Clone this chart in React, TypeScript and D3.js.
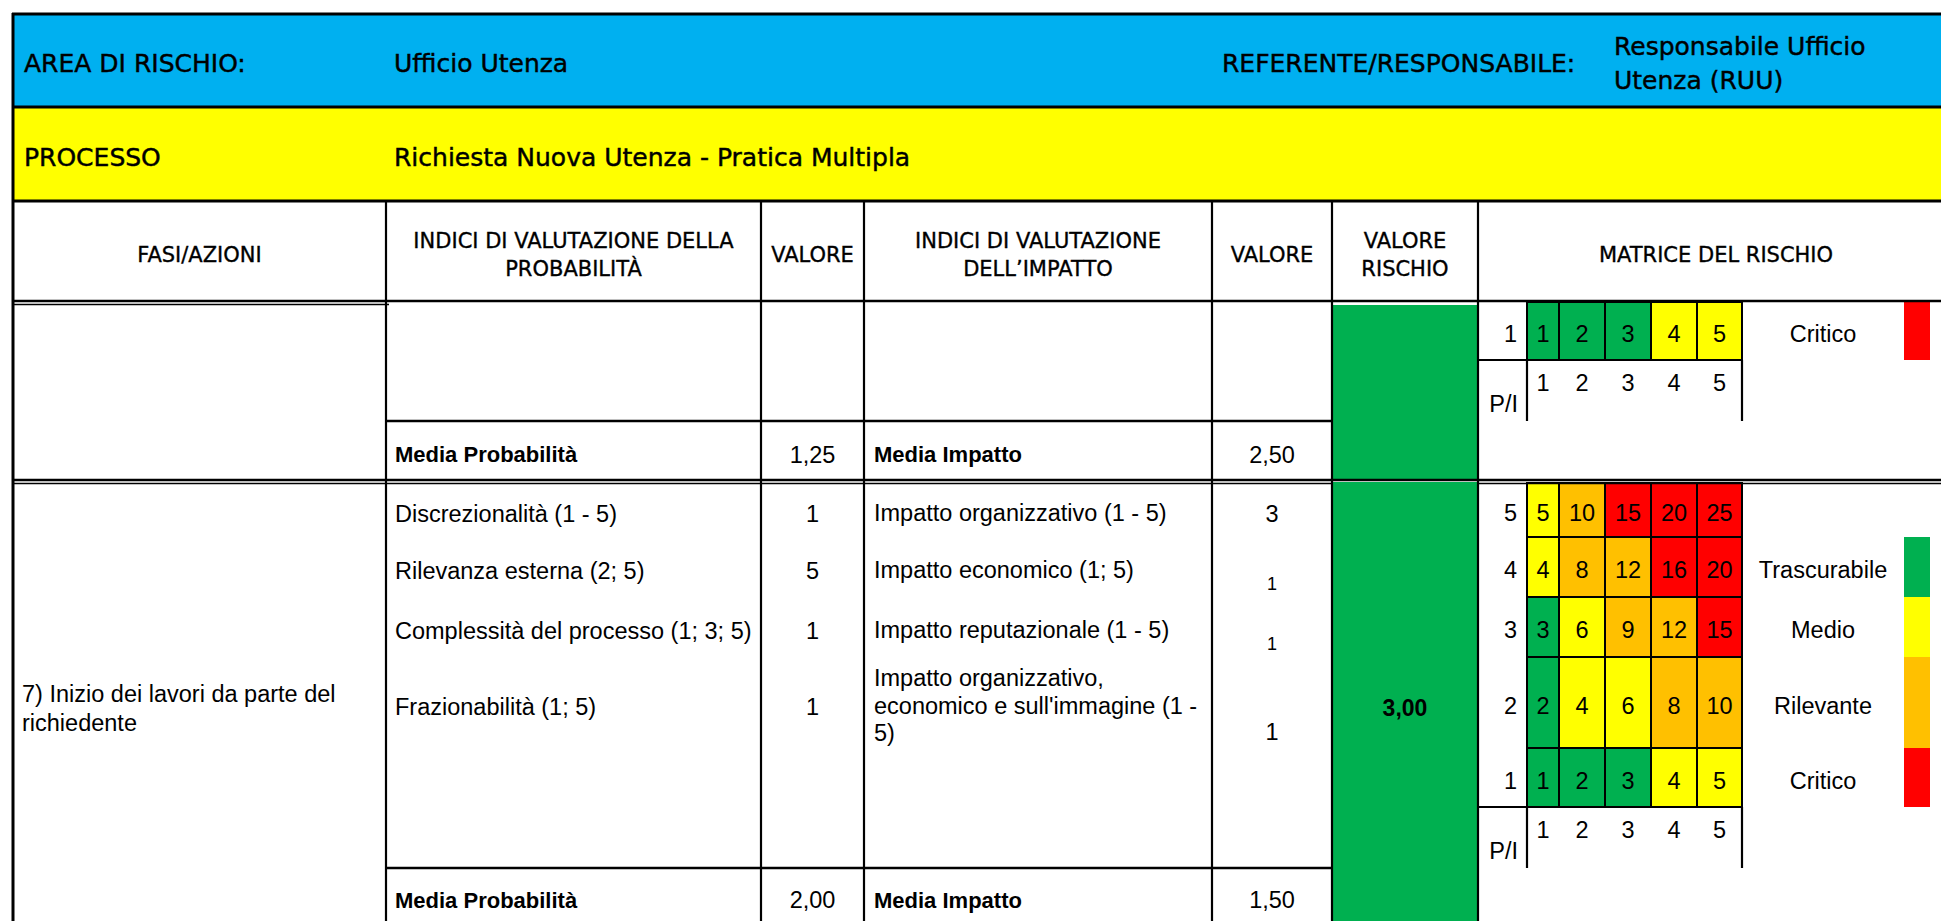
import React from 'react';
import * as d3 from 'd3';

// intestazione della scheda
const areaLabel = 'AREA DI RISCHIO:';
const areaValue = 'Ufficio Utenza';
const referenteLabel = 'REFERENTE/RESPONSABILE:';
const referenteValue = ['Responsabile Ufficio', 'Utenza (RUU)'];
const processoLabel = 'PROCESSO';
const processoValue = 'Richiesta Nuova Utenza - Pratica Multipla';

const columnHeaders = [
  ['FASI/AZIONI'],
  ['INDICI DI VALUTAZIONE DELLA', 'PROBABILITÀ'],
  ['VALORE'],
  ['INDICI DI VALUTAZIONE', 'DELL’IMPATTO'],
  ['VALORE'],
  ['VALORE', 'RISCHIO'],
  ['MATRICE DEL RISCHIO'],
];

// fase precedente (se ne vede solo la coda)
const prevMediaProb = 1.25;
const prevMediaImp = 2.5;
const prevRiskClass = 'Trascurabile';

// fase 7
const faseLabel = ['7) Inizio dei lavori da parte del', 'richiedente'];
const probIndices = [
  'Discrezionalità (1 - 5)',
  'Rilevanza esterna (2; 5)',
  'Complessità del processo (1; 3; 5)',
  'Frazionabilità (1; 5)',
];
const probValues = [1, 5, 1, 1];
const impactIndices = [
  ['Impatto organizzativo (1 - 5)'],
  ['Impatto economico (1; 5)'],
  ['Impatto reputazionale (1 - 5)'],
  ['Impatto organizzativo,', "economico e sull'immagine (1 -", '5)'],
];
const impactValues = [3, 1, 1, 1];
const mediaProb = 2.0;
const mediaImp = 1.5;
const valoreRischio = 3.0;

// matrice probabilità x impatto
const probLevels = [5, 4, 3, 2, 1];
const impactLevels = [1, 2, 3, 4, 5];
const matrixValues = [
  [5, 10, 15, 20, 25],
  [4, 8, 12, 16, 20],
  [3, 6, 9, 12, 15],
  [2, 4, 6, 8, 10],
  [1, 2, 3, 4, 5],
];
const riskClasses = ['Trascurabile', 'Medio', 'Rilevante', 'Critico'];
const riskColors = ['#00B050', '#FFFF00', '#FFC000', '#FF0000'];

const W = 1941;
const H = 921;
const fBand = "'DejaVu Sans', Verdana, sans-serif";
const fBody = "'Liberation Sans', Arial, sans-serif";

// colonne della tabella
const colX = [13, 386, 761, 864, 1212, 1332, 1478, 1960];
const matX = [1527, 1559, 1605, 1651, 1697, 1742];

const App: React.FC = () => {
  const fmt = d3
    .formatLocale({ decimal: ',', thousands: '.', grouping: [3], currency: ['€', ''] })
    .format('.2f');
  const riskColor = d3.scaleThreshold<number, string>().domain([4, 8, 15]).range(riskColors);
  const classColor = d3.scaleOrdinal<string, string>().domain(riskClasses).range(riskColors);

  // righe: sezione 1 (coda fase precedente) e sezione 2 (fase 7)
  const s1 = [302, ...Array.from(d3.cumsum([58, 61, 59])).map(d => 302 + d)];
  const s2 = [483, ...Array.from(d3.cumsum([54, 60, 60, 91, 59, 61, 58])).map(d => 483 + d)];
  const m1 = (s1[2] + s1[3]) / 2;
  const m2 = (s2[6] + s2[7]) / 2;

  const colMid = (i: number) => (colX[i] + colX[i + 1]) / 2;
  const matMid = (j: number) => (matX[j] + matX[j + 1]) / 2;

  const lines: { x1: number; y1: number; x2: number; y2: number; w: number }[] = [];
  const hl = (y: number, x1: number, x2: number, w = 2.2) => lines.push({ x1, y1: y, x2, y2: y, w });
  const vl = (x: number, y1: number, y2: number, w = 2.2) => lines.push({ x1: x, y1, x2: x, y2, w });

  hl(14, 12, W, 3);
  hl(107, 12, W, 3);
  hl(201, 12, W, 3);
  hl(301, 12, W, 2.5);
  hl(304.5, 12, 389, 1.6);
  vl(13, 13, H, 3);
  colX.slice(1, 7).forEach(x => vl(x, 201, H));
  hl(s1[2], colX[1], colX[5], 2.6);
  hl(480, 12, W, 2.6);
  hl(483.5, 12, colX[5], 1.6);
  hl(483.5, colX[6], W, 1.6);
  hl(s2[6], colX[1], colX[5], 2.6);

  const matrix = (ys: number[], rows: number[], legend: { cls: string; row: number }[], key: string) => {
    const nr = rows.length;
    const axisTop = ys[nr];
    const axisBot = ys[nr + 1];
    return (
      <g key={key} fontFamily={fBody} fontSize={23.5} fill="#000">
        {rows.map((r, k) => (
          <g key={r}>
            <text x={1517} y={(ys[k] + ys[k + 1]) / 2 + 3} dy="0.35em" textAnchor="end">
              {probLevels[r]}
            </text>
            {matrixValues[r].map((v, j) => (
              <g key={j}>
                <rect
                  x={matX[j]}
                  y={ys[k]}
                  width={matX[j + 1] - matX[j]}
                  height={ys[k + 1] - ys[k]}
                  fill={riskColor(v)}
                  stroke="#000"
                  strokeWidth={2}
                />
                <text x={matMid(j)} y={(ys[k] + ys[k + 1]) / 2 + 3} dy="0.35em" textAnchor="middle">
                  {v}
                </text>
              </g>
            ))}
          </g>
        ))}
        <line x1={colX[6]} x2={matX[5]} y1={axisTop} y2={axisTop} stroke="#000" strokeWidth={2.2} />
        <line x1={matX[0]} x2={matX[0]} y1={axisTop} y2={axisBot} stroke="#000" strokeWidth={2.2} />
        <line x1={matX[5]} x2={matX[5]} y1={axisTop} y2={axisBot} stroke="#000" strokeWidth={2.2} />
        {impactLevels.map((d, j) => (
          <text key={d} x={matMid(j)} y={axisTop + 31} textAnchor="middle">
            {d}
          </text>
        ))}
        <text x={1518} y={axisTop + 52} textAnchor="end">
          P/I
        </text>
        {legend.map(l => (
          <g key={l.cls}>
            <text x={1823} y={(ys[l.row] + ys[l.row + 1]) / 2 + 3} dy="0.35em" textAnchor="middle">
              {l.cls}
            </text>
            <rect x={1904} y={ys[l.row]} width={26} height={ys[l.row + 1] - ys[l.row]} fill={classColor(l.cls)} />
          </g>
        ))}
      </g>
    );
  };

  const impactAlign = ['center', 'bottomSmall', 'bottomSmall', 'bottom'];

  return (
    <svg
      width={W}
      height={H}
      style={{ position: 'absolute', left: 0, top: 0, background: '#fff' }}
    >
      {/* fasce di intestazione */}
      <rect x={13} y={14} width={W} height={93} fill="#00B0F0" />
      <rect x={13} y={107} width={W} height={94} fill="#FFFF00" />
      <g fontFamily={fBand} fontSize={25} fill="#000" stroke="#000" strokeWidth={0.45}>
        <text x={24} y={72}>{areaLabel}</text>
        <text x={394} y={72}>{areaValue}</text>
        <text x={1222} y={72}>{referenteLabel}</text>
        {referenteValue.map((t, i) => (
          <text key={t} x={1614} y={55 + i * 34}>{t}</text>
        ))}
        <text x={24} y={166}>{processoLabel}</text>
        <text x={394} y={166}>{processoValue}</text>
      </g>

      {/* testata colonne */}
      <g fontFamily={fBand} fontSize={21} fill="#000" stroke="#000" strokeWidth={0.35} textAnchor="middle">
        {columnHeaders.map((lbl, i) => {
          const cx = i === 6 ? 1716 : colMid(i);
          const y0 = lbl.length === 1 ? 262 : 248;
          return lbl.map((t, k) => (
            <text key={`${i}-${k}`} x={cx} y={y0 + k * 28}>{t}</text>
          ));
        })}
      </g>

      {/* valore rischio (verde) */}
      <rect x={colX[5]} y={305} width={colX[6] - colX[5]} height={175} fill={classColor(prevRiskClass)} />
      <rect x={colX[5]} y={482} width={colX[6] - colX[5]} height={H - 482} fill={riskColor(valoreRischio)} />

      {/* sezione 1: medie della fase precedente */}
      <g fontFamily={fBody} fontSize={23.5} fill="#000">
        <text x={395} y={m1 + 4} dy="0.35em" fontWeight="bold" fontSize={22}>Media Probabilità</text>
        <text x={colMid(2)} y={m1 + 4} dy="0.35em" textAnchor="middle">{fmt(prevMediaProb)}</text>
        <text x={874} y={m1 + 4} dy="0.35em" fontWeight="bold" fontSize={22}>Media Impatto</text>
        <text x={colMid(4)} y={m1 + 4} dy="0.35em" textAnchor="middle">{fmt(prevMediaImp)}</text>
      </g>

      {/* sezione 2: fase 7 */}
      <g fontFamily={fBody} fontSize={23.5} fill="#000">
        {faseLabel.map((t, i) => (
          <text key={t} x={22} y={(s2[0] + s2[7] + 8) / 2 + (i - 0.5) * 29} dy="0.35em">{t}</text>
        ))}
        {probIndices.map((t, i) => (
          <g key={t}>
            <text x={395} y={(s2[i] + s2[i + 1]) / 2 + 4} dy="0.35em">{t}</text>
            <text x={colMid(2)} y={(s2[i] + s2[i + 1]) / 2 + 4} dy="0.35em" textAnchor="middle">{probValues[i]}</text>
          </g>
        ))}
        {impactIndices.map((lns, i) => {
          const c = (s2[i] + s2[i + 1]) / 2 + 3;
          const a = impactAlign[i];
          const vy = a === 'center' ? c + 1 : a === 'bottomSmall' ? s2[i + 1] - 13 : s2[i + 1] - 16;
          return (
            <g key={i}>
              {lns.map((t, k) => (
                <text key={k} x={874} y={c + (k - (lns.length - 1) / 2) * 27.5} dy="0.35em">{t}</text>
              ))}
              <text x={colMid(4)} y={vy} dy="0.35em" textAnchor="middle" fontSize={a === 'bottomSmall' ? 18 : 23.5}>
                {impactValues[i]}
              </text>
            </g>
          );
        })}
        <text x={colMid(5)} y={(s2[0] + s2[7]) / 2 + 3} dy="0.35em" textAnchor="middle" fontWeight="bold" fontSize={23}>
          {fmt(valoreRischio)}
        </text>
        <text x={395} y={m2 + 3} dy="0.35em" fontWeight="bold" fontSize={22}>Media Probabilità</text>
        <text x={colMid(2)} y={m2 + 3} dy="0.35em" textAnchor="middle">{fmt(mediaProb)}</text>
        <text x={874} y={m2 + 3} dy="0.35em" fontWeight="bold" fontSize={22}>Media Impatto</text>
        <text x={colMid(4)} y={m2 + 3} dy="0.35em" textAnchor="middle">{fmt(mediaImp)}</text>
      </g>

      {/* matrici del rischio */}
      {matrix(s1.slice(0, 3), [4], [{ cls: 'Critico', row: 0 }], 'm1')}
      {matrix(s2.slice(0, 7), [0, 1, 2, 3, 4], riskClasses.map((c, i) => ({ cls: c, row: i + 1 })), 'm2')}

      {/* griglia */}
      {lines.map((l, i) => (
        <line key={i} x1={l.x1} y1={l.y1} x2={l.x2} y2={l.y2} stroke="#000" strokeWidth={l.w} />
      ))}
    </svg>
  );
};

export default App;
